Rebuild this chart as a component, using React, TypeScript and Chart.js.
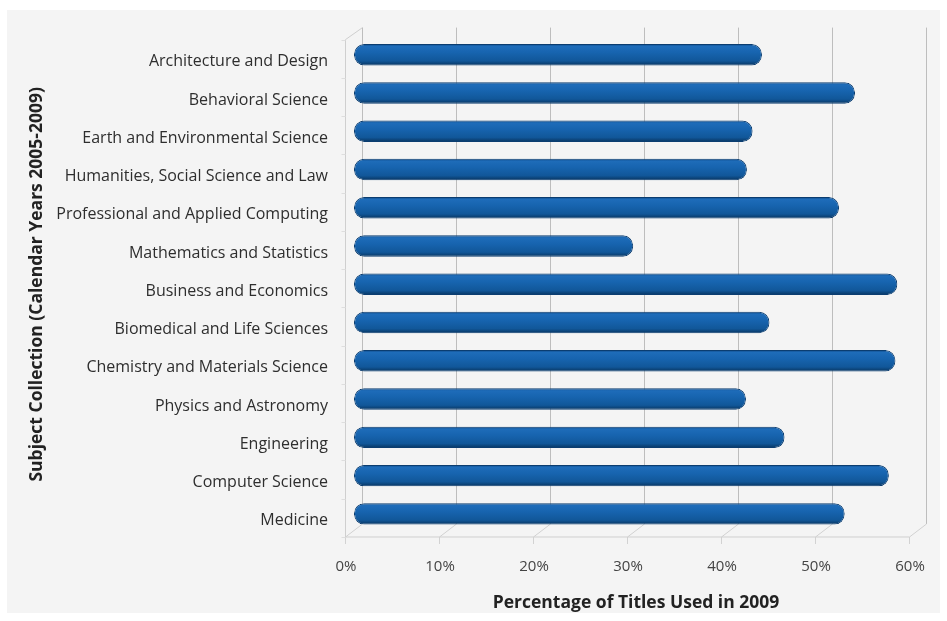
import React, { useEffect, useRef } from "react";
import { Chart, registerables } from "chart.js";

Chart.register(...registerables);

const categories: string[] = [
  "Architecture and Design",
  "Behavioral Science",
  "Earth and Environmental Science",
  "Humanities, Social Science and Law",
  "Professional and Applied Computing",
  "Mathematics and Statistics",
  "Business and Economics",
  "Biomedical and Life Sciences",
  "Chemistry and Materials Science",
  "Physics and Astronomy",
  "Engineering",
  "Computer Science",
  "Medicine",
];

const usedPct: number[] = [43.4, 53.3, 42.4, 41.8, 51.6, 29.7, 57.8, 44.2, 57.6, 41.7, 45.8, 56.9, 52.2];

const xTickValues: number[] = [0, 10, 20, 30, 40, 50, 60];

const xTitle = "Percentage of Titles Used in 2009";
const yTitle = "Subject Collection (Calendar Years 2005-2009)";

const FONT = "'Open Sans', 'Liberation Sans', sans-serif";

const frame3d = {
  id: "frame3d",
  beforeDraw(chart: any) {
    const ctx = chart.ctx;
    ctx.save();
    ctx.fillStyle = "#ffffff";
    ctx.fillRect(0, 0, chart.width, chart.height);
    ctx.fillStyle = "#f4f4f4";
    ctx.fillRect(7, 10, 933, 603);
    ctx.restore();
  },
  beforeDatasetsDraw(chart: any) {
    const ctx = chart.ctx;
    const xs = chart.scales.x;
    const ys = chart.scales.y;
    const { top, bottom } = chart.chartArea;
    const back = 8;
    const front = -9;
    const backBottom = bottom - 9;
    const frontY = bottom + 4;
    ctx.save();
    ctx.lineWidth = 1;
    xTickValues.forEach((v) => {
      const m = Math.round(xs.getPixelForValue(v)) + 0.5;
      ctx.strokeStyle = "#bdbdbd";
      ctx.beginPath();
      ctx.moveTo(m + back, top - 8);
      ctx.lineTo(m + back, backBottom);
      ctx.stroke();
      ctx.strokeStyle = "#d2d2d2";
      ctx.beginPath();
      ctx.moveTo(m + back, backBottom);
      ctx.lineTo(m + front, frontY);
      ctx.lineTo(m + front, frontY + 7);
      ctx.stroke();
    });
    const x0 = Math.round(xs.getPixelForValue(xTickValues[0])) + 0.5;
    const x1 = Math.round(xs.getPixelForValue(xTickValues[xTickValues.length - 1])) + 0.5;
    ctx.strokeStyle = "#cfcfcf";
    ctx.beginPath();
    ctx.moveTo(x0 + front, frontY);
    ctx.lineTo(x1 + front, frontY);
    ctx.stroke();
    ctx.beginPath();
    ctx.moveTo(x0 + front, frontY);
    ctx.lineTo(x0 + front, top + 4);
    ctx.lineTo(x0 + back, top - 8);
    ctx.stroke();
    ctx.strokeStyle = "#dedede";
    for (let i = 0; i <= categories.length; i++) {
      const y = Math.round(ys.getPixelForValue(i - 0.5)) + 4.5;
      ctx.beginPath();
      ctx.moveTo(x0 + front - 4, y);
      ctx.lineTo(x0 + front, y);
      ctx.stroke();
    }
    ctx.restore();
  },
};

const barFill = (c: any) => {
  const chart = c.chart;
  const ys = chart.scales && chart.scales.y;
  if (!ys || c.dataIndex === undefined) return "#1763ad";
  const yc = ys.getPixelForValue(c.dataIndex);
  if (!isFinite(yc)) return "#1763ad";
  const h = 11;
  const g = chart.ctx.createLinearGradient(0, yc - h, 0, yc + h);
  g.addColorStop(0, "#0d4681");
  g.addColorStop(0.12, "#1e6cb9");
  g.addColorStop(0.4, "#1764af");
  g.addColorStop(0.78, "#115799");
  g.addColorStop(1, "#07325c");
  return g;
};

export default function App() {
  const ref = useRef<HTMLCanvasElement | null>(null);

  useEffect(() => {
    if (!ref.current) return;
    const chart = new Chart(ref.current, {
      type: "bar",
      data: {
        labels: categories,
        datasets: [
          {
            data: usedPct,
            backgroundColor: barFill,
            borderColor: "#0b3d70",
            borderWidth: 1,
            borderRadius: 10,
            borderSkipped: false,
            barPercentage: 0.56,
            categoryPercentage: 1,
          },
        ],
      },
      plugins: [frame3d],
      options: {
        indexAxis: "y",
        animation: false,
        responsive: false,
        devicePixelRatio: 1,
        layout: { padding: { left: 0, top: 34, right: 29, bottom: 0 } },
        plugins: {
          legend: { display: false },
          tooltip: { enabled: false },
        },
        scales: {
          x: {
            min: 0,
            max: 60,
            afterFit: (s: any) => {
              s.height = 88;
              s.paddingLeft = 0;
              s.paddingRight = 0;
            },
            afterBuildTicks: (s: any) => {
              s.ticks = xTickValues.map((v) => ({ value: v }));
            },
            grid: { display: false, drawTicks: false },
            border: { display: false },
            ticks: {
              padding: 25,
              labelOffset: -8,
              color: "#444444",
              font: { family: FONT, size: 15 },
              callback: (v: any) => v + "%",
            },
            title: {
              display: true,
              text: xTitle,
              color: "#222222",
              font: { family: FONT, size: 17.5, weight: "bold" },
              padding: { top: 0, bottom: 7 },
            },
          },
          y: {
            afterFit: (s: any) => {
              s.width = 354;
            },
            grid: { display: false, drawTicks: false },
            border: { display: false },
            ticks: {
              padding: 26,
              labelOffset: 7,
              color: "#2e2e2e",
              font: { family: FONT, size: 16 },
              autoSkip: false,
            },
            title: {
              display: true,
              text: yTitle,
              color: "#222222",
              font: { family: FONT, size: 17.5, weight: "bold" },
              padding: { top: 27, bottom: 0 },
            },
          },
        },
      },
    });
    return () => chart.destroy();
  }, []);

  return (
    <div style={{ position: "absolute", left: 0, top: 0, width: 947, height: 621 }}>
      <canvas ref={ref} width={947} height={621} style={{ display: "block", width: 947, height: 621 }} />
    </div>
  );
}
